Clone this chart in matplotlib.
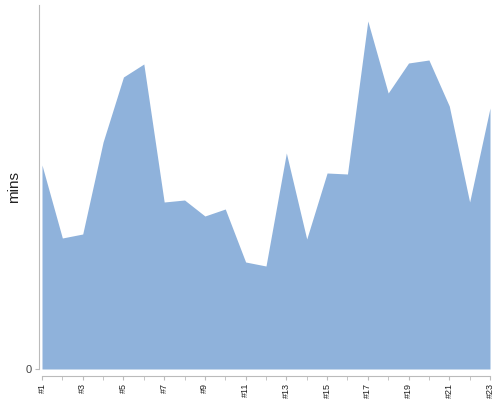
import matplotlib
matplotlib.use("Agg")
import matplotlib.pyplot as plt

plt.rcParams['font.family'] = ['Liberation Sans', 'DejaVu Sans']

categories = [f"#{i}" for i in range(1, 24)]
values = [20.4, 13.1, 13.5, 22.7, 29.2, 30.5, 16.7, 16.9, 15.3, 16.0, 10.7, 10.3,
          21.6, 13.0, 19.6, 19.5, 34.8, 27.6, 30.6, 30.9, 26.3, 16.7, 26.1]
ymax = 36.4

fig = plt.figure(figsize=(5, 4), dpi=100)
ax = fig.add_axes([0.078, 0.0775, 0.902, 0.91])

x = list(range(1, len(values) + 1))
ax.fill_between(x, values, 0, color='#8fb2db', linewidth=0)

ax.set_xlim(1 - 0.147, len(values))
ax.set_ylim(0, ymax)

for s in ['top', 'right']:
    ax.spines[s].set_visible(False)
ax.spines['left'].set_color('#bbbbbb')
ax.spines['bottom'].set_color('#bbbbbb')
ax.spines['bottom'].set_position(('outward', 5))
ax.spines['bottom'].set_bounds(1, len(values))

ax.set_xticks(x[::2])
ax.set_xticklabels(categories[::2], rotation=90, fontsize=6.5, color='#222222')
ax.set_xticks(x[1::2], minor=True)
ax.tick_params(axis='x', which='both', length=3, color='#bbbbbb', pad=2)
ax.set_yticks([0])
ax.set_yticklabels(['0'], fontsize=8, color='#444444')
ax.tick_params(axis='y', length=3, color='#bbbbbb', pad=2)

fig.text(14 / 500, 1 - 187 / 400, 'mins', rotation=90, fontsize=11,
         color='#222222', ha='center', va='center')

fig.savefig('out.png', dpi=100)
